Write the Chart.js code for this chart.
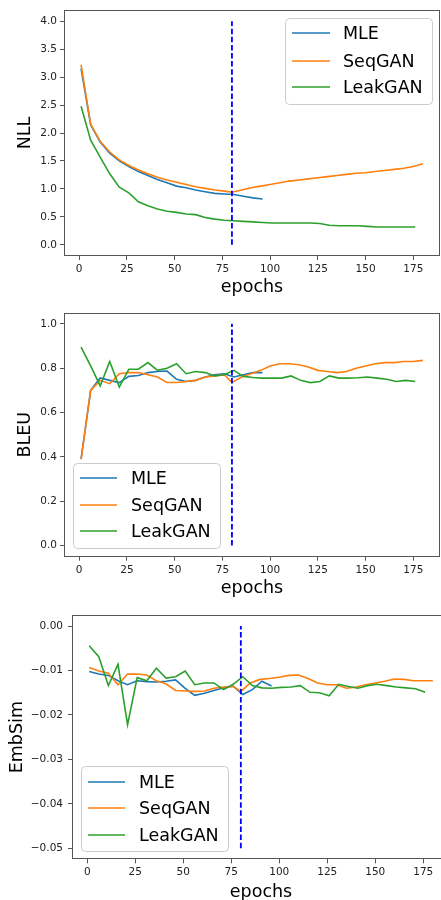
<!DOCTYPE html>
<html><head><meta charset="utf-8">
<script src="https://cdn.jsdelivr.net/npm/chart.js@4.4.1/dist/chart.umd.min.js"></script>
<style>
html,body{margin:0;padding:0;background:#fff;overflow:hidden;width:441px;height:900px}
.panel{position:absolute;left:0;width:441px;height:300px;overflow:hidden;background:#fff}
canvas{display:block}
</style></head><body>
<div class="panel" style="top:0"><canvas id="c1" width="441" height="300" style="width:441px;height:300px"></canvas></div>
<div class="panel" style="top:300px"><canvas id="c2" width="441" height="300" style="width:441px;height:300px"></canvas></div>
<div class="panel" style="top:600px"><canvas id="c3" width="451" height="310" style="width:451px;height:310px"></canvas></div>
<script>
// ---------- data ----------
const seriesNames = ['MLE', 'SeqGAN', 'LeakGAN'];
const pretrainEnd = 80;
const xTickValues = [0, 25, 50, 75, 100, 125, 150, 175];
const nllTicks = [0.0, 0.5, 1.0, 1.5, 2.0, 2.5, 3.0, 3.5, 4.0];
const bleuTicks = [0.0, 0.2, 0.4, 0.6, 0.8, 1.0];
const embTicks = [-0.05, -0.04, -0.03, -0.02, -0.01, 0.00];

const mleEpochs = [1,6,11,16,21,26,31,36,41,46,51,56,61,66,71,76,81,86,91,96];
const seqganEpochs = [1,6,11,16,21,26,31,36,41,46,51,56,61,66,71,76,80,85,90,95,100,105,110,115,120,125,130,135,140,145,150,155,160,165,170,175,180];
const leakganEpochs = [1,6,11,16,21,26,31,36,41,46,51,56,61,66,71,76,81,86,91,96,101,106,111,116,121,126,131,136,141,146,151,156,161,166,171,176];

const nllMLE = [3.15,2.15,1.84,1.64,1.50,1.40,1.31,1.24,1.17,1.11,1.05,1.02,0.98,0.95,0.92,0.91,0.90,0.87,0.84,0.82];
const nllSeqGAN = [3.22,2.16,1.85,1.66,1.52,1.42,1.34,1.27,1.21,1.16,1.12,1.08,1.04,1.01,0.98,0.96,0.94,0.98,1.02,1.05,1.08,1.11,1.14,1.16,1.18,1.20,1.22,1.24,1.26,1.28,1.29,1.31,1.33,1.35,1.37,1.40,1.45];
const nllLeakGAN = [2.48,1.87,1.57,1.27,1.03,0.93,0.77,0.70,0.64,0.60,0.58,0.55,0.54,0.49,0.46,0.44,0.43,0.42,0.41,0.40,0.39,0.39,0.39,0.39,0.39,0.38,0.35,0.34,0.34,0.34,0.33,0.32,0.32,0.32,0.32,0.32];

const bleuMLE = [0.39,0.70,0.756,0.745,0.735,0.763,0.767,0.78,0.785,0.787,0.75,0.74,0.745,0.76,0.77,0.775,0.76,0.77,0.78,0.78];
const bleuSeqGAN = [0.39,0.70,0.745,0.73,0.775,0.78,0.78,0.77,0.76,0.735,0.735,0.74,0.745,0.76,0.765,0.77,0.735,0.76,0.775,0.79,0.81,0.82,0.82,0.815,0.805,0.79,0.785,0.78,0.785,0.80,0.81,0.82,0.825,0.825,0.83,0.83,0.835];
const bleuLeakGAN = [0.895,0.81,0.72,0.83,0.715,0.795,0.795,0.825,0.79,0.80,0.82,0.775,0.785,0.78,0.765,0.77,0.79,0.763,0.758,0.755,0.755,0.755,0.765,0.745,0.735,0.74,0.765,0.755,0.755,0.757,0.76,0.755,0.75,0.74,0.745,0.74];

const embMLE = [-0.0102,-0.0108,-0.0111,-0.0123,-0.0132,-0.0123,-0.0125,-0.0126,-0.0124,-0.0121,-0.0140,-0.0156,-0.0151,-0.0145,-0.0139,-0.0135,-0.0154,-0.0143,-0.0124,-0.0135];
const embSeqGAN = [-0.0093,-0.0101,-0.0106,-0.0132,-0.0108,-0.0108,-0.0110,-0.0123,-0.0130,-0.0145,-0.0146,-0.0147,-0.0146,-0.0140,-0.0137,-0.0136,-0.0147,-0.0128,-0.0120,-0.0118,-0.0115,-0.0111,-0.0110,-0.0118,-0.0128,-0.0132,-0.0132,-0.0140,-0.0137,-0.0132,-0.0128,-0.0124,-0.0119,-0.0120,-0.0123,-0.0123,-0.0123];
const embLeakGAN = [-0.0044,-0.0069,-0.0134,-0.0086,-0.0222,-0.0116,-0.0123,-0.0095,-0.0117,-0.0114,-0.0101,-0.0132,-0.0128,-0.0128,-0.0143,-0.0131,-0.0114,-0.0134,-0.0139,-0.0140,-0.0138,-0.0137,-0.0134,-0.0149,-0.0150,-0.0157,-0.0131,-0.0136,-0.0140,-0.0134,-0.0131,-0.0134,-0.0137,-0.0139,-0.0141,-0.0149];

// ---------- style ----------
const FAMILY = '"DejaVu Sans", sans-serif';
const COLORS = ['#1f77b4', '#ff7f0e', '#2ca02c'];
const FRAME = '#555555';

const pts = (xs, ys) => xs.map((x, i) => ({x: x, y: ys[i]}));

const mplPlugin = {
  id: 'mpl',
  afterDatasetsDraw(chart, args, opts) {
    const ctx = chart.ctx, a = chart.chartArea;
    ctx.save();
    ctx.strokeStyle = FRAME; ctx.lineWidth = 1;
    ctx.strokeRect(Math.round(a.left) + 0.5, Math.round(a.top) + 0.5,
                   Math.round(a.right - a.left) - 1, Math.round(a.bottom - a.top) - 1);
    // legend
    const L = opts.legend;
    if (L) {
      ctx.fillStyle = 'rgba(255,255,255,0.85)';
      ctx.strokeStyle = '#cccccc';
      ctx.lineWidth = 1;
      const r = 4;
      ctx.beginPath();
      ctx.roundRect(L.x + 0.5, L.y + 0.5, L.w, L.h, r);
      ctx.fill(); ctx.stroke();
      ctx.font = '17.5px ' + FAMILY;
      ctx.textBaseline = 'alphabetic';
      seriesNames.forEach((name, i) => {
        const cy = L.rows[i];
        ctx.strokeStyle = COLORS[i];
        ctx.lineWidth = 1.6;
        ctx.beginPath(); ctx.moveTo(L.lx0, cy); ctx.lineTo(L.lx1, cy); ctx.stroke();
        ctx.fillStyle = '#000';
        ctx.fillText(name, L.tx, cy + 6.4);
      });
    }
    ctx.restore();
  }
};

function buildChart(id, cfg) {
  const datasets = [
    {label: 'vline', data: [{x: pretrainEnd, y: cfg.vline[0]}, {x: pretrainEnd, y: cfg.vline[1]}],
     borderColor: '#0000ff', borderWidth: 1.8, borderDash: [5.5, 2.6], pointRadius: 0, order: 0, clip: false},
    {label: seriesNames[2], data: pts(leakganEpochs, cfg.leak), borderColor: COLORS[2], borderWidth: 1.6, pointRadius: 0, order: 1},
    {label: seriesNames[1], data: pts(seqganEpochs, cfg.seq), borderColor: COLORS[1], borderWidth: 1.6, pointRadius: 0, order: 2},
    {label: seriesNames[0], data: pts(mleEpochs, cfg.mle), borderColor: COLORS[0], borderWidth: 1.6, pointRadius: 0, order: 3}
  ];
  return new Chart(document.getElementById(id), {
    type: 'line',
    data: {datasets: datasets},
    options: {
      responsive: false, animation: false, events: [],
      parsing: true,
      elements: {line: {tension: 0, fill: false}},
      layout: {padding: {top: cfg.padTop, right: 1, left: 0, bottom: 0}},
      plugins: {legend: {display: false}, tooltip: {enabled: false}, mpl: {legend: cfg.legend}},
      scales: {
        x: {
          type: 'linear', min: -7.95, max: 188.95,
          afterBuildTicks: s => { s.ticks = xTickValues.map(v => ({value: v})); },
          afterFit: s => { s.height = cfg.xH; },
          grid: {display: true, drawOnChartArea: false, drawTicks: true, tickLength: 4, color: FRAME},
          border: {display: false},
          ticks: {font: {family: FAMILY, size: 10.5}, color: '#222', padding: 3, maxRotation: 0, autoSkip: false,
                  callback: v => String(v)},
          title: {display: true, text: 'epochs', color: '#000', font: {family: FAMILY, size: 17.5},
                  padding: {top: 0, bottom: cfg.xTitlePad}}
        },
        y: {
          type: 'linear', min: cfg.yMin, max: cfg.yMax,
          afterBuildTicks: s => { s.ticks = cfg.yTicks.map(v => ({value: v})); },
          afterFit: s => { s.width = cfg.yW; },
          grid: {display: true, drawOnChartArea: false, drawTicks: true, tickLength: 4, color: FRAME},
          border: {display: false},
          ticks: {font: {family: FAMILY, size: 10.5}, color: '#222', padding: cfg.yTickPad, autoSkip: false,
                  callback: cfg.fmt},
          title: {display: true, text: cfg.yTitle, color: '#000', font: {family: FAMILY, size: 17.5},
                  padding: {top: cfg.yTitlePad, bottom: 0}}
        }
      }
    },
    plugins: [mplPlugin]
  });
}

buildChart('c1', {
  mle: nllMLE, seq: nllSeqGAN, leak: nllLeakGAN, vline: [0, 4],
  yMin: -0.2, yMax: 4.2, yTicks: nllTicks, yTitle: 'NLL', fmt: v => Number(v).toFixed(1),
  padTop: 10, xH: 44, xTitlePad: 2.5, yW: 64, yTickPad: 3, yTitlePad: 14.5,
  legend: {x: 285, y: 18, w: 147, h: 86, rows: [33, 61, 87], lx0: 292, lx1: 330, tx: 343}
});
buildChart('c2', {
  mle: bleuMLE, seq: bleuSeqGAN, leak: bleuLeakGAN, vline: [0, 1],
  yMin: -0.05, yMax: 1.05, yTicks: bleuTicks, yTitle: 'BLEU', fmt: v => Number(v).toFixed(1),
  padTop: 12.7, xH: 43.3, xTitlePad: 1.5, yW: 64, yTickPad: 3, yTitlePad: 14.5,
  legend: {x: 73, y: 163, w: 147, h: 85, rows: [178, 205, 231], lx0: 80, lx1: 117, tx: 131}
});
buildChart('c3', {
  mle: embMLE, seq: embSeqGAN, leak: embLeakGAN, vline: [-0.05, 0],
  yMin: -0.0525, yMax: 0.0025, yTicks: embTicks, yTitle: 'EmbSim',
  fmt: v => Number(v).toFixed(2).replace('-', '\u2212'),
  padTop: 15, xH: 50.7, xTitlePad: 7.5, yW: 72, yTickPad: 5, yTitlePad: 6.5,
  legend: {x: 81, y: 166, w: 147, h: 85, rows: [182, 208, 235], lx0: 88, lx1: 125, tx: 139}
});
</script>
</body></html>
